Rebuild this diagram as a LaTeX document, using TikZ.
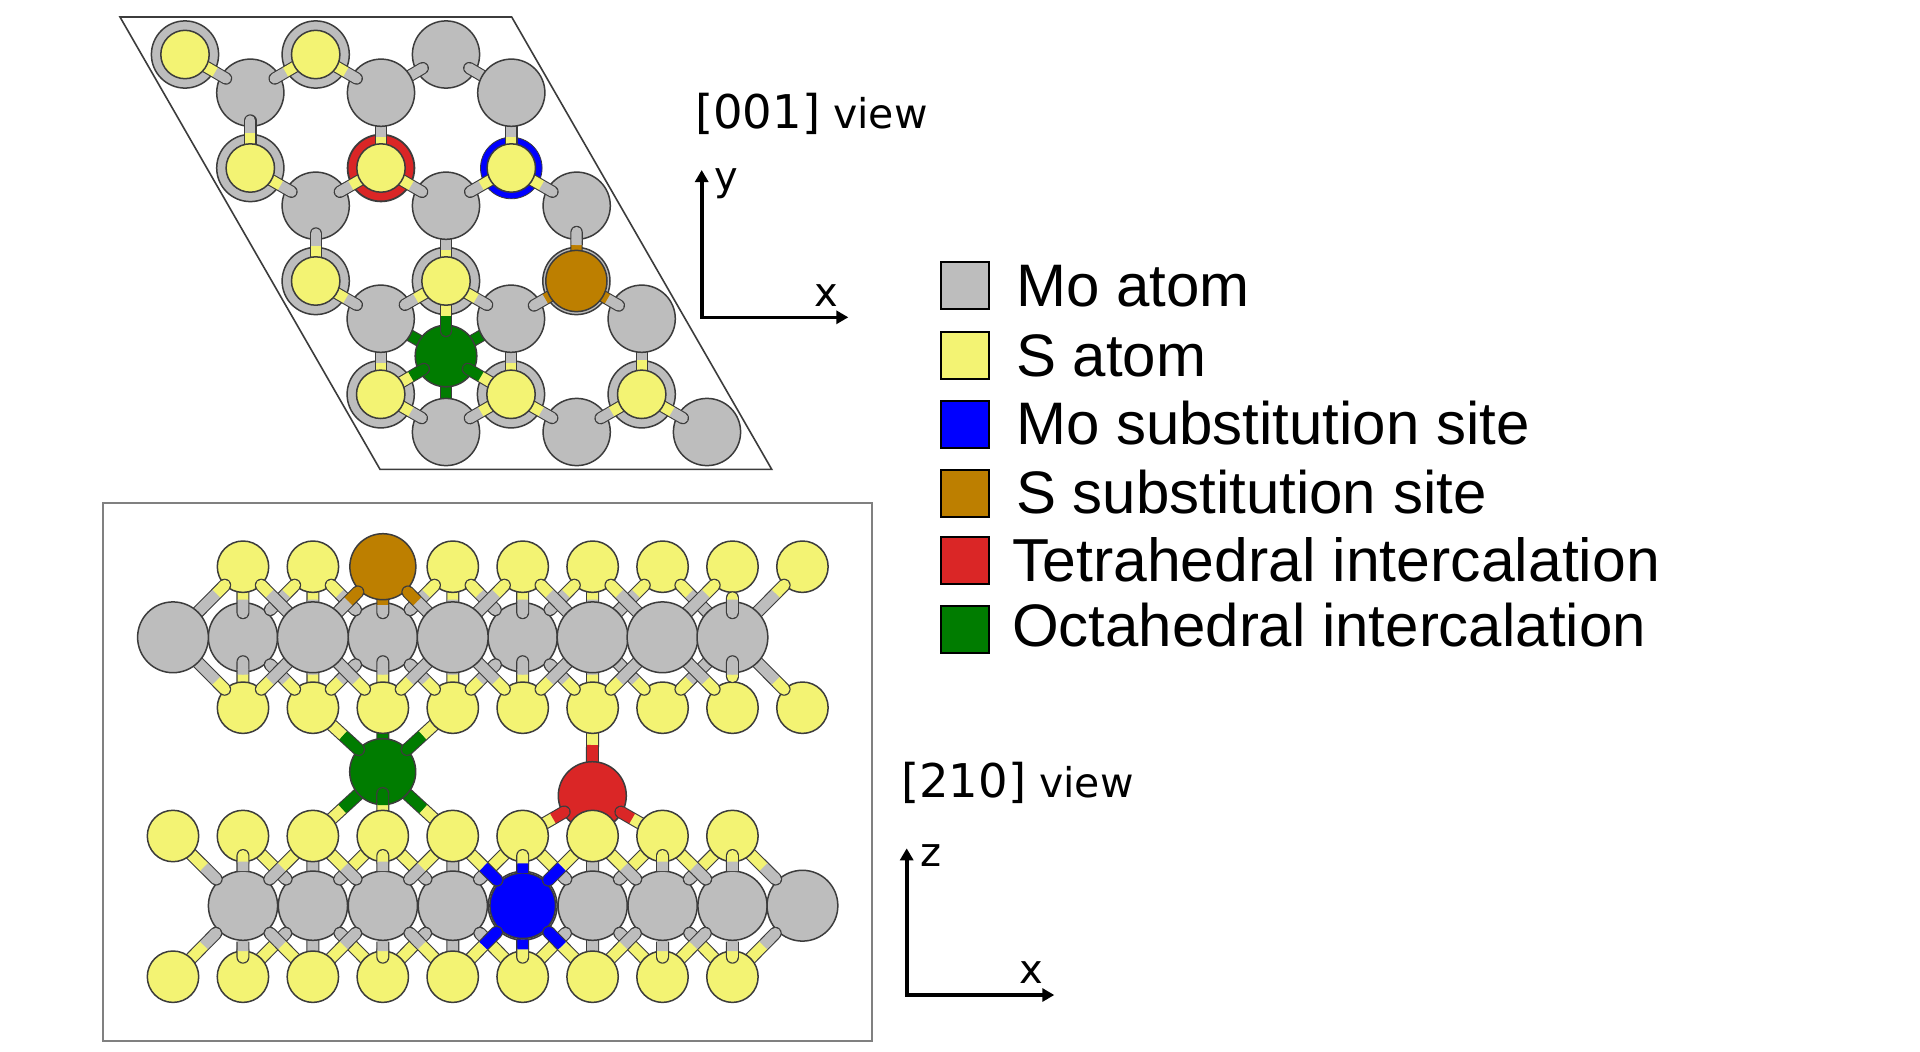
\documentclass[tikz,border=0pt]{standalone}
\usepackage{fontspec}
\setmainfont{Liberation Sans}
\newfontfamily\viewfont{DejaVu Sans}
\usetikzlibrary{calc,arrows.meta}
\definecolor{clMo}{HTML}{BDBDBD}
\definecolor{clS}{HTML}{F3F373}
\definecolor{clRed}{HTML}{DA2626}
\definecolor{clBlue}{HTML}{0000FF}
\definecolor{clGreen}{HTML}{007C00}
\definecolor{clBrown}{HTML}{BD7F00}
\definecolor{clEdge}{HTML}{3C3C3C}
\tikzset{
  atom/.style={circle,draw=clEdge,line width=1.5pt,inner sep=0pt,outer sep=0pt},
  atomr/.style={minimum size={2*#1*1pt}},
  moplane/.style={atom,fill=clMo,atomr=33.6},
  sball/.style={atom,fill=clS,atomr=24.2},
  sside/.style={atom,fill=clS,atomr=25.7},
  mofront/.style={atom,fill=clMo,atomr=35.4},
  moback/.style={atom,fill=clMo,atomr=34.6},
  legendbox/.style={draw=black,line width=2pt,minimum width=48pt,minimum height=47pt,inner sep=0pt,outer sep=0pt},
  legendtext/.style={anchor=base west,inner sep=0pt,font=\fontsize{60}{62}\selectfont},
  viewtext/.style={anchor=base west,inner sep=0pt,font=\viewfont},
  axislabel/.style={anchor=base west,inner sep=0pt,font=\viewfont\fontsize{40}{42}\selectfont},
  axisline/.style={line width=3.6pt,draw=black,{Triangle[length=12pt,width=13pt]}-{Triangle[length=12pt,width=13pt]}},
}
% widths of a stick: outline and coloured core
\newcommand{\bondouter}{12.4pt}
\newcommand{\bondinner}{10.2pt}
% Two-coloured stick from atom #1 towards atom #2: it runs from #3 to #5 (distances from #1),
% changing from colour #6 to colour #7 at #4. Both ends are round.
\newcommand{\bondtip}[7]{%
  \draw[line width=\bondouter,clEdge,line cap=round] ($(#1)!#3pt!(#2)$) -- ($(#1)!#5pt!(#2)$);
  \draw[line width=\bondinner,#6,line cap=round] ($(#1)!#3pt!(#2)$) -- ($(#1)!#4pt!(#2)$);
  \draw[line width=\bondinner,#7,line cap=butt] ($(#1)!#4pt!(#2)$) -- ($(#1)!#4pt+5.5pt!(#2)$);
  \draw[line width=\bondinner,#7,line cap=round] ($(#1)!#4pt+5.5pt!(#2)$) -- ($(#1)!#5pt!(#2)$);
}
% Same stick, cut flat at its far end where it meets an atom already drawn.
\newcommand{\bondcut}[7]{%
  \draw[line width=\bondouter,clEdge,line cap=round] ($(#1)!#3pt!(#2)$) -- ($(#1)!#4pt!(#2)$);
  \draw[line width=\bondouter,clEdge,line cap=butt] ($(#1)!#4pt!(#2)$) -- ($(#1)!#5pt!(#2)$);
  \draw[line width=\bondinner,#6,line cap=round] ($(#1)!#3pt!(#2)$) -- ($(#1)!#4pt!(#2)$);
  \draw[line width=\bondinner,#7,line cap=butt] ($(#1)!#4pt!(#2)$) -- ($(#1)!#5pt!(#2)$);
}
\begin{document}
\begin{tikzpicture}[x=1pt,y=-1pt]
\fill[white] (0,0) rectangle (1920,1052);
\useasboundingbox (0,0) rectangle (1920,1052);

%% ---------- [001] projection ----------
\coordinate (cellA) at (120,17);
\coordinate (cellB) at (511.7,17);
\coordinate (cellC) at (771.7,469.3);
\coordinate (cellD) at (380,469.3);
\draw[clEdge,line width=1.6pt,line join=miter] (cellA) -- (cellB) -- (cellC) -- (cellD) -- cycle;

% lower molybdenum layer and the intercalant rings
\foreach \n/\x/\y in {pa1/185/54.5,pa2/315.7/54.5,pa3/446/54.5,
                      pc1/250.3/168,
                      pe1/315.7/281,pe2/446/281,pe3/576.4/281,
                      pg1/380.7/394.3,pg2/511/394.3,pg3/641.7/394.3}{
  \node[moplane] (\n) at (\x,\y) {};
}
\node[atom,fill=clRed,atomr=33.4,line width=1.8pt] (pc2) at (381,168) {};
\node[atom,fill=clBlue,atomr=30.8,line width=0.8pt] (pc3) at (511.3,168) {};

% positions of the upper molybdenum layer, for the sticks that run beneath it
\foreach \n/\x/\y in {pb1/250.3/92.7,pb2/381/92.7,pb3/511.3/92.7,
                      pd1/315.7/205.7,pd2/446/205.7,pd3/576.7/205.7,
                      pf1/380.7/318.7,pf2/511/318.7,pf3/641.7/318.7,
                      ph1/446/432,ph2/576.7/432,ph3/707/432}{
  \coordinate (c\n) at (\x,\y);
}
\coordinate (cgreen) at (446,356);

% sticks that pass beneath the upper layer
\bondtip{pa3}{cpb2}{27}{40}{72}{clMo}{clMo}
\bondtip{pa3}{cpb3}{27}{40}{72}{clMo}{clMo}
\bondtip{pc2}{cpb2}{15}{31}{72}{clS}{clMo}
\bondtip{pc3}{cpb3}{15}{31}{72}{clS}{clMo}
\bondtip{pe2}{cpd2}{15}{31}{72}{clS}{clMo}
\bondtip{pg1}{cpf1}{15}{31}{72}{clS}{clMo}
\bondtip{pg2}{cpf2}{15}{31}{72}{clS}{clMo}
\bondtip{pg3}{cpf3}{15}{34}{72}{clS}{clMo}
\bondtip{cgreen}{cpf1}{15}{30}{70}{clGreen}{clGreen}
\bondtip{cgreen}{cpf2}{15}{30}{70}{clGreen}{clGreen}
\bondtip{cgreen}{cph1}{15}{30}{60}{clGreen}{clGreen}

% upper molybdenum layer and the octahedral site
\foreach \n in {pb1,pb2,pb3,pd1,pd2,pd3,pf1,pf2,pf3,ph1,ph2,ph3}{
  \node[moplane] (\n) at (c\n) {};
}
\node[atom,fill=clGreen,atomr=30.8] (pgreen) at (cgreen) {};

% sticks lying on top of the molybdenum atoms
\foreach \a/\b in {pa1/pb1,pa2/pb1,pa2/pb2,
                   pc1/pb1,pc1/pd1,pc2/pd1,pc2/pd2,pc3/pd2,pc3/pd3,
                   pe1/pd1,pe1/pf1,pe2/pf1,pe2/pf2,
                   pg1/ph1,pg2/ph1,pg2/ph2,pg3/ph2,pg3/ph3}{
  \bondtip{\a}{\b}{15}{35}{47.5}{clS}{clMo}
}
\foreach \b in {pd3,pf2,pf3}{
  \bondtip{pe3}{\b}{15}{36}{49}{clBrown}{clMo}
}
\foreach \a in {pg1,pg2,pe2}{
  \bondtip{\a}{pgreen}{15}{35}{50}{clS}{clGreen}
}

% sulfur atoms of the upper layer and the substituted site
\foreach \n/\x/\y in {sa1/185/54.5,sa2/315.7/54.5,
                      sc1/250.3/168,sc2/381/168,sc3/511.3/168,
                      se1/315.7/281,se2/446/281,
                      sg1/380.7/394.3,sg2/511/394.3,sg3/641.7/394.3}{
  \node[sball] (\n) at (\x,\y) {};
}
\node[atom,fill=clBrown,atomr=30.6] (sbrown) at (576.4,281) {};

%% ---------- [210] projection ----------
\renewcommand{\bondouter}{13pt}
\renewcommand{\bondinner}{10.8pt}
\draw[draw=black!50,line width=2pt] (103.3,502.7) rectangle (871.7,1040.7);

% position of every atom in the two MoS2 sheets
\foreach \i in {0,...,8}{
  \coordinate (tm\i) at ({173+69.93*\i},637.3);
  \coordinate (tt\i) at ({243+69.93*\i},566.7);
  \coordinate (tb\i) at ({243+69.93*\i},707.7);
  \coordinate (bm\i) at ({243+69.93*\i},905.7);
  \coordinate (bt\i) at ({173+69.93*\i},836);
  \coordinate (bb\i) at ({173+69.93*\i},976.7);
}
\coordinate (cgo) at (382.7,771.7);
\coordinate (cte) at (592.3,795.7);

% octahedral and tetrahedral intercalants with the sticks to their neighbours
\bondtip{tb2}{cgo}{15}{30}{45}{clGreen}{clGreen}
\bondtip{bt2}{cgo}{15}{40}{85}{clS}{clGreen}
\bondtip{bt4}{cgo}{15}{40}{85}{clS}{clGreen}
\bondtip{tb5}{cte}{15}{37.3}{70}{clS}{clRed}
\node[atom,fill=clGreen,atomr=33] (octa) at (cgo) {};
\node[atom,fill=clRed,atomr=34] (tetra) at (cte) {};
\bondtip{tb1}{octa}{15}{41}{62}{clS}{clGreen}
\bondtip{tb3}{octa}{15}{41}{62}{clS}{clGreen}
\bondtip{bt3}{octa}{15}{31}{42.5}{clS}{clGreen}
\bondtip{bt5}{tetra}{15}{35}{48}{clS}{clRed}
\bondtip{bt7}{tetra}{15}{35}{48}{clS}{clRed}

% upper sheet: Mo atoms furthest from the viewer
\foreach \i in {1,3,5}{ \node[moback] (mb\i) at (tm\i) {}; }

% upper sheet: sticks along z
\bondtip{tt0}{mb1}{15}{33}{46}{clS}{clMo}
\bondtip{tb0}{mb1}{15}{33}{46}{clS}{clMo}
\bondtip{tt2}{mb3}{15}{38.5}{46}{clBrown}{clMo}
\bondtip{tb2}{mb3}{15}{33}{46}{clS}{clMo}
\bondtip{tt4}{mb5}{15}{33}{46}{clS}{clMo}
\bondtip{tb4}{mb5}{15}{33}{46}{clS}{clMo}
\foreach \a/\b in {tt1/tm2,tb1/tm2,tt3/tm4,tb3/tm4,tt5/tm6,tb5/tm6}{
  \bondtip{\a}{\b}{15}{33}{60}{clS}{clMo}
}

% upper sheet: sulfur atoms and the substituted site
\foreach \i in {0,1,3,4,5,6,7,8}{ \node[sside] (st\i) at (tt\i) {}; }
\node[atom,fill=clBrown,atomr=33] (st2) at (tt2) {};
\foreach \i in {0,...,8}{ \node[sside] (sb\i) at (tb\i) {}; }

% upper sheet: slanted sticks ending on the far Mo atoms
\foreach \a/\b in {st1/mb1,st1/mb3,st3/mb3,st3/mb5,st5/mb5,
                   sb1/mb1,sb1/mb3,sb3/mb3,sb3/mb5,sb5/mb5}{
  \bondtip{\a}{\b}{26}{38}{60.5}{clS}{clMo}
}
% upper sheet: slanted sticks passing under the near Mo atoms
\foreach \a/\b in {st6/tm6,st6/tm8,sb6/tm6,sb6/tm8,
                   st0/tm0,st0/tm2,st4/tm4,st4/tm6,st5/tm7,st7/tm7,st8/tm8,
                   sb0/tm0,sb0/tm2,sb2/tm2,sb2/tm4,sb4/tm4,sb4/tm6,sb5/tm7,sb7/tm7,sb8/tm8}{
  \bondtip{\a}{\b}{26}{38}{85}{clS}{clMo}
}
\bondtip{st2}{tm2}{35.5}{49}{85}{clBrown}{clMo}
\bondtip{st2}{tm4}{35.5}{49}{85}{clBrown}{clMo}

% upper sheet: near Mo atoms
\foreach \i in {0,2,4,6,7,8}{ \node[mofront] (mf\i) at (tm\i) {}; }
\bondtip{st7}{mf8}{31}{33}{46}{clS}{clMo}
\bondtip{sb7}{mf8}{31}{33}{46}{clS}{clMo}

% lower sheet: short sticks hidden at both ends
\foreach \a/\b in {bt2/bm1,bb2/bm1,bt4/bm3,bb4/bm3,bt6/bm5,bb6/bm5}{
  \bondtip{\a}{\b}{15}{20}{50}{clMo}{clMo}
}

% lower sheet: Mo atoms and the substituted Mo site
\foreach \i in {0,1,2,3,5,6,7}{ \node[moback] (lm\i) at (bm\i) {}; }
\node[mofront] (lm8) at (bm8) {};
\node[atom,fill=clMo,atomr=34.4] (lmring) at (bm4) {};
\node[atom,fill=clBlue,atomr=32.8] (lm4) at (bm4) {};

% lower sheet: slanted sticks, lower ones first
\foreach \a/\b in {bt1/lm1,bt3/lm1,bt3/lm3,bt5/lm3,bt5/lm5,bt7/lm5,bt8/lm6,
                   bb1/lm1,bb3/lm1,bb3/lm3,bb5/lm3,bb5/lm5,bb7/lm5,bb8/lm6,
                   bt0/lm0,bt2/lm0,bt2/lm2,bt4/lm2,bt6/lm6,bt7/lm7,bt8/lm8,
                   bb0/lm0,bb2/lm0,bb2/lm2,bb4/lm2,bb6/lm6,bb7/lm7,bb8/lm8}{
  \bondtip{\a}{\b}{15}{44}{61}{clS}{clMo}
}
\foreach \a in {bt4,bt6,bb4,bb6}{
  \bondtip{\a}{lm4}{15}{43.5}{62.5}{clS}{clBlue}
}

% lower sheet: sulfur atoms
\foreach \i in {0,...,8}{
  \node[sside] (lt\i) at (bt\i) {};
  \node[sside] (lb\i) at (bb\i) {};
}

% lower sheet: sticks along z resting on the sulfur atoms
\foreach \a/\b in {lt1/lm0,lb1/lm0,lt3/lm2,lb3/lm2,lt7/lm6,lb7/lm6,lt8/lm7,lb8/lm7}{
  \bondcut{\a}{\b}{19.5}{25.7}{35.2}{clS}{clMo}
}
\bondcut{lt5}{lm4}{19.5}{27.3}{37}{clS}{clBlue}
\bondcut{lb5}{lm4}{19.5}{27.3}{37}{clS}{clBlue}

%% ---------- axes and view captions ----------
\node[viewtext] (view1) at (695,128) {\fontsize{46.5}{48}\selectfont [001]\hspace*{13pt}\fontsize{41}{43}\selectfont view};
\coordinate (o1) at (701.7,317.3);
\coordinate (y1) at (701.7,170);
\coordinate (x1) at (848.3,317.3);
\draw[axisline] (y1) -- (o1) -- (x1);
\node[axislabel] (ylabel) at (714,190) {y};
\node[axislabel] (xlabel1) at (814,306.7) {x};

\node[viewtext] (view2) at (901,797.5) {\fontsize{46.5}{48}\selectfont [210]\hspace*{13pt}\fontsize{41}{43}\selectfont view};
\coordinate (o2) at (906.7,995);
\coordinate (z2) at (906.7,848.3);
\coordinate (x2) at (1054.3,995);
\draw[axisline] (z2) -- (o2) -- (x2);
\node[axislabel] (zlabel) at (920,866.7) {z};
\node[axislabel] (xlabel2) at (1019.5,983.3) {x};

%% ---------- legend ----------
\foreach \n/\c/\cy in {k1/clMo/285.8,k2/clS/355.8,k3/clBlue/424.8,k4/clBrown/493,k5/clRed/560.8,k6/clGreen/629}{
  \node[legendbox,fill=\c] (\n) at (965,\cy) {};
}
\node[legendtext] (t1) at (1016,306.5) {Mo atom};
\node[legendtext] (t2) at (1016,376.5) {S atom};
\node[legendtext] (t3) at (1016,444) {Mo substitution site};
\node[legendtext] (t4) at (1016,513.5) {S substitution site};
\node[legendtext,font=\fontsize{60.7}{62}\selectfont] (t5) at (1012,581.5) {Tetrahedral intercalation};
\node[legendtext] (t6) at (1012,646.8) {Octahedral intercalation};
\end{tikzpicture}
\end{document}
